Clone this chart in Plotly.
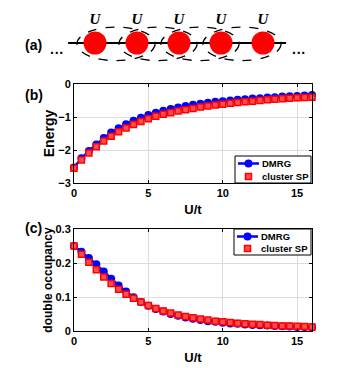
import plotly.graph_objects as go

# U/t values
u = [i * 0.5 for i in range(33)]

energy_dmrg = [-2.53, -2.25, -2.03, -1.83, -1.64, -1.47, -1.34, -1.22, -1.11, -1.02, -0.94,
               -0.87, -0.81, -0.76, -0.71, -0.67, -0.63, -0.60, -0.57, -0.54, -0.52, -0.50,
               -0.48, -0.46, -0.44, -0.43, -0.41, -0.40, -0.38, -0.37, -0.36, -0.35, -0.33]
energy_sp = [-2.55, -2.30, -2.09, -1.90, -1.73, -1.58, -1.45, -1.33, -1.23, -1.14, -1.05,
             -0.98, -0.92, -0.87, -0.82, -0.78, -0.74, -0.70, -0.67, -0.64, -0.61, -0.58,
             -0.56, -0.54, -0.52, -0.50, -0.48, -0.46, -0.45, -0.43, -0.42, -0.41, -0.40]

docc_dmrg = [0.250, 0.233, 0.215, 0.196, 0.175, 0.154, 0.134, 0.116, 0.099, 0.085, 0.074,
             0.065, 0.057, 0.050, 0.045, 0.040, 0.036, 0.032, 0.029, 0.027, 0.024, 0.022,
             0.021, 0.019, 0.018, 0.017, 0.016, 0.015, 0.014, 0.013, 0.012, 0.012, 0.011]
docc_sp = [0.250, 0.226, 0.202, 0.180, 0.159, 0.140, 0.123, 0.108, 0.096, 0.085, 0.075,
           0.066, 0.059, 0.053, 0.047, 0.043, 0.039, 0.035, 0.032, 0.029, 0.027, 0.025,
           0.023, 0.021, 0.020, 0.019, 0.017, 0.016, 0.015, 0.015, 0.014, 0.013, 0.012]

# schematic lattice sites for panel (a)
sites = [0, 1, 2, 3, 4]
site_labels = ["U"] * 5

series_names = ["DMRG", "cluster SP"]

BLUE = "#0000ff"
RED = "#ff0000"
SQ_FILL = "#ff5050"
FONT = "Liberation Sans, Arial, sans-serif"

# the page body has an 8px margin, so size the figure to fit the window
OFF = 8
W, H = 340 - OFF, 368 - OFF


def px(x):
    return (x - OFF) / W


def py(y):
    return 1 - (y - OFF) / H


fig = go.Figure()


def add_pair(x, y_dmrg, y_sp, xa, ya):
    fig.add_trace(go.Scatter(
        x=x, y=y_dmrg, name=series_names[0], mode="lines+markers",
        line=dict(color=BLUE, width=2.5),
        marker=dict(symbol="circle", size=8, color=BLUE),
        xaxis=xa, yaxis=ya, showlegend=False, cliponaxis=False,
    ))
    fig.add_trace(go.Scatter(
        x=x, y=y_sp, name=series_names[1], mode="markers",
        marker=dict(symbol="square", size=6, color=SQ_FILL,
                    line=dict(color=RED, width=1.5)),
        xaxis=xa, yaxis=ya, showlegend=False, cliponaxis=False,
    ))


add_pair(u, energy_dmrg, energy_sp, "x", "y")
add_pair(u, docc_dmrg, docc_sp, "x2", "y2")

# panel (a): chain of sites
fig.add_trace(go.Scatter(
    x=[sites[0] - 0.64, sites[-1] + 0.55], y=[0, 0], mode="lines",
    line=dict(color="black", width=2), xaxis="x3", yaxis="y3",
    showlegend=False, hoverinfo="skip",
))
fig.add_trace(go.Scatter(
    x=sites, y=[0] * len(sites), mode="markers+text",
    marker=dict(size=23, color=RED),
    text=site_labels, textposition="top center",
    textfont=dict(family="Liberation Serif, Times New Roman, serif", size=15, color="black"),
    texttemplate="<b><i>%{text}</i></b>",
    xaxis="x3", yaxis="y3", showlegend=False, hoverinfo="skip",
))

shapes = []
for s in sites[:-1]:
    shapes.append(dict(
        type="circle", xref="x3", yref="y3",
        x0=s + 0.5 - 0.93, x1=s + 0.5 + 0.93, y0=-0.42, y1=0.38,
        line=dict(color="black", width=1.3, dash="dash"),
    ))

annotations = []


def add_legend_box(left, top, right, bottom):
    # MATLAB-style compact legend drawn with shapes and text
    shapes.append(dict(type="rect", xref="paper", yref="paper",
                       x0=px(left), x1=px(right), y0=py(bottom), y1=py(top),
                       fillcolor="white", line=dict(color="black", width=1)))
    y1 = top + 7.5
    y2 = bottom - 6.5
    shapes.append(dict(type="line", xref="paper", yref="paper",
                       x0=px(left + 3), x1=px(left + 24), y0=py(y1), y1=py(y1),
                       line=dict(color=BLUE, width=2.5)))
    shapes.append(dict(type="circle", xref="paper", yref="paper",
                       xsizemode="pixel", ysizemode="pixel",
                       xanchor=px(left + 13.5), yanchor=py(y1),
                       x0=-4, x1=4, y0=-4, y1=4,
                       fillcolor=BLUE, line=dict(color=BLUE, width=0)))
    shapes.append(dict(type="rect", xref="paper", yref="paper",
                       xsizemode="pixel", ysizemode="pixel",
                       xanchor=px(left + 13.5), yanchor=py(y2),
                       x0=-3, x1=3, y0=-3, y1=3,
                       fillcolor=SQ_FILL, line=dict(color=RED, width=1.5)))
    for name, yy in zip(series_names, [y1, y2]):
        annotations.append(dict(
            text=f"<b>{name}</b>", x=px(left + 25), y=py(yy), xref="paper", yref="paper",
            xanchor="left", yanchor="middle", showarrow=False,
            font=dict(family=FONT, size=9.5, color="black")))


add_legend_box(235, 156, 311, 183)
add_legend_box(234, 229, 311, 255)

for label, yy in [("(a)", 35), ("(b)", 85), ("(c)", 228)]:
    annotations.append(dict(text=f"<b>{label}</b>", x=px(23), y=py(yy),
                            xref="paper", yref="paper", showarrow=False,
                            font=dict(family=FONT, size=14)))
for xx in [48, 308]:
    annotations.append(dict(text="<b>···</b>", x=px(xx), y=py(43),
                            xref="paper", yref="paper", showarrow=False,
                            font=dict(family=FONT, size=14)))

x_dom = [px(74), px(312)]
axis_common = dict(
    showline=True, linecolor="black", linewidth=1, mirror="ticks",
    ticks="inside", ticklen=3, tickcolor="black",
    showgrid=True, gridcolor="#dcdcdc", gridwidth=1, zeroline=False,
    tickfont=dict(family=FONT, size=11, color="black", weight="bold"),
    automargin=False,
)
title_font = dict(family=FONT, size=13, color="black", weight="bold")

# site 0 sits at x=95px, 42px per lattice unit; chain at y=43px
x3_range = [(OFF - 95) / 42, (340 - 95) / 42]
y3_range = [(43 - 70) / 42, (43 - OFF) / 42]

fig.update_layout(
    width=W, height=H,
    margin=dict(l=0, r=0, t=0, b=0),
    paper_bgcolor="white", plot_bgcolor="white",
    font=dict(family=FONT, color="black"),
    showlegend=False,
    shapes=shapes,
    annotations=annotations,
    xaxis=dict(axis_common, domain=x_dom, range=[0, 16], tickvals=[0, 5, 10, 15],
               anchor="y", title=dict(text="U/t", font=title_font, standoff=6)),
    yaxis=dict(axis_common, domain=[py(183), py(84)], range=[-3, 0],
               tickvals=[0, -1, -2, -3], anchor="x",
               title=dict(text="Energy", font=dict(title_font, size=14), standoff=0)),
    xaxis2=dict(axis_common, domain=x_dom, range=[0, 16], tickvals=[0, 5, 10, 15],
                anchor="y2", title=dict(text="U/t", font=title_font, standoff=6)),
    yaxis2=dict(axis_common, domain=[py(331), py(229)], range=[0, 0.3],
                tickvals=[0, 0.1, 0.2, 0.3], anchor="x2",
                title=dict(text="double occupancy", font=dict(title_font, size=12),
                           standoff=0)),
    xaxis3=dict(domain=[0, 1], range=x3_range, visible=False,
                anchor="y3", fixedrange=True),
    yaxis3=dict(domain=[py(70), 1], range=y3_range, visible=False,
                anchor="x3", fixedrange=True),
)

fig.write_html("out.html")
